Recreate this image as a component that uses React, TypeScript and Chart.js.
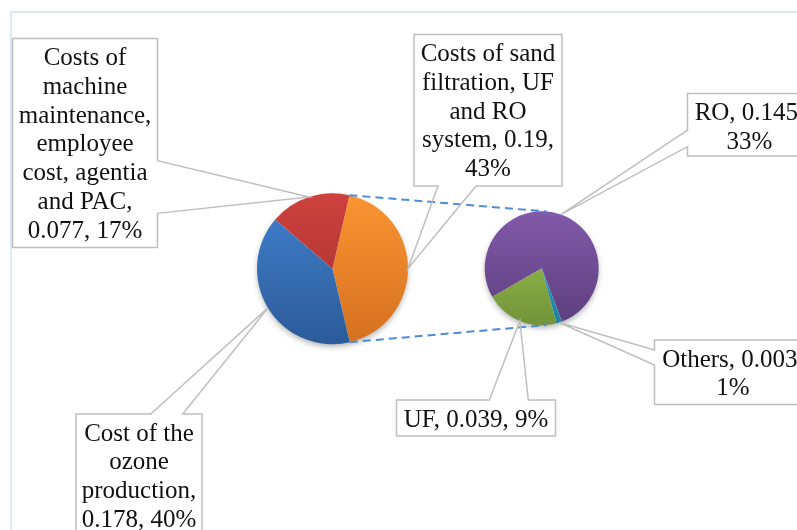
import React, { useEffect, useRef } from "react";
import { Chart, registerables } from "chart.js";

Chart.register(...registerables);

// ---- data ----
const mainLabels = [
  "Costs of sand filtration, UF and RO system",
  "Cost of the ozone production",
  "Costs of machine maintenance, employee cost, agentia and PAC",
];
const mainValues = [0.19, 0.178, 0.077];
const mainPercents = ["43%", "40%", "17%"];

const subLabels = ["UF", "RO", "Others"];
const subValues = [0.039, 0.145, 0.003];
const subPercents = ["9%", "33%", "1%"];

// ---- styles ----
const mainColors: [string, string][] = [
  ["#fa9533", "#d4701f"],
  ["#4082d0", "#2c5a98"],
  ["#ce413e", "#a02f2c"],
];
const subColors: [string, string][] = [
  ["#a0c84e", "#72933a"],
  ["#815aa9", "#5c3e7d"],
  ["#30a9cd", "#1f82a1"],
];

const W = 797;
const H = 530;
const FONT = '25px "Liberation Serif", "Times New Roman", serif';
const LINE_H = 28.8;

type Callout = {
  chart: "main" | "sub";
  index: number;
  x: number;
  y: number;
  w: number;
  h: number;
  side: "top" | "bottom" | "left" | "right";
  a: number;
  b: number;
  maxW: number;
};

const callouts: Callout[] = [
  { chart: "main", index: 2, x: 12.5, y: 38.5, w: 145, h: 209, side: "right", a: 160.7, b: 213.3, maxW: 140 },
  { chart: "main", index: 0, x: 414, y: 34.5, w: 148, h: 151.5, side: "bottom", a: 438, b: 476, maxW: 140 },
  { chart: "main", index: 1, x: 76, y: 414, w: 126, h: 126, side: "top", a: 150.7, b: 182.7, maxW: 120 },
  { chart: "sub", index: 1, x: 687.5, y: 93.5, w: 124, h: 62.5, side: "left", a: 130, b: 146.7, maxW: 118 },
  { chart: "sub", index: 2, x: 654.5, y: 340, w: 157, h: 64.5, side: "left", a: 350, b: 365, maxW: 150 },
  { chart: "sub", index: 0, x: 396.5, y: 400, w: 159, h: 36, side: "top", a: 489.3, b: 528.3, maxW: 155 },
];

function wrap(ctx: CanvasRenderingContext2D, text: string, maxW: number): string[] {
  const words = text.split(" ");
  const lines: string[] = [];
  let cur = "";
  for (const w of words) {
    const t = cur ? cur + " " + w : w;
    if (cur && ctx.measureText(t).width > maxW) {
      lines.push(cur);
      cur = w;
    } else cur = t;
  }
  if (cur) lines.push(cur);
  return lines;
}

function gradientColor(pairs: [string, string][]) {
  return (c: any) => {
    const chart = c.chart;
    const area = chart.chartArea;
    const p = pairs[c.dataIndex % pairs.length];
    if (!area) return p[0];
    const g = chart.ctx.createLinearGradient(0, area.top, 0, area.bottom);
    g.addColorStop(0, p[0]);
    g.addColorStop(1, p[1]);
    return g;
  };
}

const shadowPlugin = {
  id: "pieShadow",
  beforeDatasetsDraw(chart: any) {
    const arc = chart.getDatasetMeta(0).data[0];
    if (!arc) return;
    const ctx = chart.ctx;
    ctx.save();
    ctx.shadowColor = "rgba(0,0,0,0.35)";
    ctx.shadowBlur = 6;
    ctx.shadowOffsetY = 3;
    ctx.fillStyle = "#ffffff";
    ctx.beginPath();
    ctx.arc(arc.x, arc.y, arc.outerRadius - 1, 0, Math.PI * 2);
    ctx.fill();
    ctx.restore();
  },
};

function pieConfig(labels: string[], values: number[], colors: [string, string][], rotation: number, pad: any) {
  return {
    type: "pie" as const,
    data: {
      labels,
      datasets: [
        {
          data: values,
          backgroundColor: gradientColor(colors),
          borderWidth: 0,
          hoverOffset: 0,
        },
      ],
    },
    options: {
      responsive: false,
      animation: false as const,
      rotation,
      layout: { padding: pad },
      plugins: { legend: { display: false }, tooltip: { enabled: false } },
      events: [] as any[],
    },
    plugins: [shadowPlugin],
  };
}

export default function App() {
  const mainRef = useRef<HTMLCanvasElement>(null);
  const subRef = useRef<HTMLCanvasElement>(null);

  useEffect(() => {
    if (!mainRef.current || !subRef.current) return;
    // left pie: center (332.5, 268.7), r 75.5
    const mainChart = new Chart(
      mainRef.current,
      pieConfig(mainLabels, mainValues, mainColors, 13, {
        left: 257,
        right: W - 332.5 - 75.5,
        top: 193.2,
        bottom: H - 268.7 - 75.5,
      }) as any
    );

    const overlay = {
      id: "overlay",
      afterDraw(chart: any) {
        const ctx: CanvasRenderingContext2D = chart.ctx;
        const mainArcs = mainChart.getDatasetMeta(0).data as any[];
        const subArcs = chart.getDatasetMeta(0).data as any[];
        ctx.save();
        // frame
        ctx.strokeStyle = "#d5e2f3";
        ctx.lineWidth = 1.5;
        ctx.beginPath();
        ctx.moveTo(11, H + 5);
        ctx.lineTo(11, 12);
        ctx.lineTo(W + 5, 12);
        ctx.stroke();

        // connector dashed lines
        const o = mainArcs[0];
        const s = subArcs[0];
        const p1 = { x: o.x + Math.cos(o.startAngle) * o.outerRadius, y: o.y + Math.sin(o.startAngle) * o.outerRadius };
        const p2 = { x: o.x + Math.cos(o.endAngle) * o.outerRadius, y: o.y + Math.sin(o.endAngle) * o.outerRadius };
        const ang = (85 * Math.PI) / 180;
        const q1 = { x: s.x + Math.cos(-ang) * s.outerRadius, y: s.y + Math.sin(-ang) * s.outerRadius };
        const q2 = { x: s.x + Math.cos(ang) * s.outerRadius, y: s.y + Math.sin(ang) * s.outerRadius };
        ctx.strokeStyle = "#4f8bd9";
        ctx.lineWidth = 2;
        ctx.setLineDash([8, 5]);
        ctx.beginPath();
        ctx.moveTo(p1.x, p1.y);
        ctx.lineTo(q1.x, q1.y);
        ctx.moveTo(p2.x, p2.y);
        ctx.lineTo(q2.x, q2.y);
        ctx.stroke();
        ctx.setLineDash([]);

        // callouts
        ctx.font = FONT;
        for (const c of callouts) {
          const arcs = c.chart === "main" ? mainArcs : subArcs;
          const arc = arcs[c.index];
          const mid = (arc.startAngle + arc.endAngle) / 2;
          const tip = { x: arc.x + Math.cos(mid) * arc.outerRadius, y: arc.y + Math.sin(mid) * arc.outerRadius };
          const label = c.chart === "main" ? mainLabels[c.index] : subLabels[c.index];
          const val = c.chart === "main" ? mainValues[c.index] : subValues[c.index];
          const pct = c.chart === "main" ? mainPercents[c.index] : subPercents[c.index];
          const text = `${label}, ${val}, ${pct}`;
          const { x, y, w, h } = c;

          ctx.fillStyle = "#ffffff";
          ctx.fillRect(x, y, w, h);

          ctx.strokeStyle = "#bfbfbf";
          ctx.lineWidth = 1.5;
          ctx.beginPath();
          ctx.moveTo(x, y);
          if (c.side === "top") {
            ctx.lineTo(c.a, y);
            ctx.lineTo(tip.x, tip.y);
            ctx.lineTo(c.b, y);
          }
          ctx.lineTo(x + w, y);
          if (c.side === "right") {
            ctx.lineTo(x + w, c.a);
            ctx.lineTo(tip.x, tip.y);
            ctx.lineTo(x + w, c.b);
          }
          ctx.lineTo(x + w, y + h);
          if (c.side === "bottom") {
            ctx.lineTo(c.b, y + h);
            ctx.lineTo(tip.x, tip.y);
            ctx.lineTo(c.a, y + h);
          }
          ctx.lineTo(x, y + h);
          if (c.side === "left") {
            ctx.lineTo(x, c.b);
            ctx.lineTo(tip.x, tip.y);
            ctx.lineTo(x, c.a);
          }
          ctx.closePath();
          ctx.stroke();

          const lines = wrap(ctx, text, c.maxW);
          ctx.fillStyle = "#111111";
          ctx.textAlign = "center";
          ctx.textBaseline = "middle";
          lines.forEach((ln, i) => {
            ctx.fillText(ln, x + w / 2, y + 20 + i * LINE_H);
          });
        }
        ctx.restore();
      },
    };

    // right pie: center (541.7, 268.3), r 57
    const cfg: any = pieConfig(subLabels, subValues, subColors, 165, {
      left: 541.7 - 57,
      right: W - 541.7 - 57,
      top: 268.3 - 57,
      bottom: H - 268.3 - 57,
    });
    cfg.plugins = [shadowPlugin, overlay];
    const subChart = new Chart(subRef.current, cfg);

    return () => {
      subChart.destroy();
      mainChart.destroy();
    };
  }, []);

  const canvasStyle: React.CSSProperties = { position: "absolute", left: 0, top: 0, width: W, height: H };
  return (
    <div style={{ position: "fixed", left: 0, top: 0, width: W, height: H, overflow: "hidden", background: "#ffffff" }}>
      <canvas ref={mainRef} width={W} height={H} style={canvasStyle} />
      <canvas ref={subRef} width={W} height={H} style={canvasStyle} />
    </div>
  );
}
